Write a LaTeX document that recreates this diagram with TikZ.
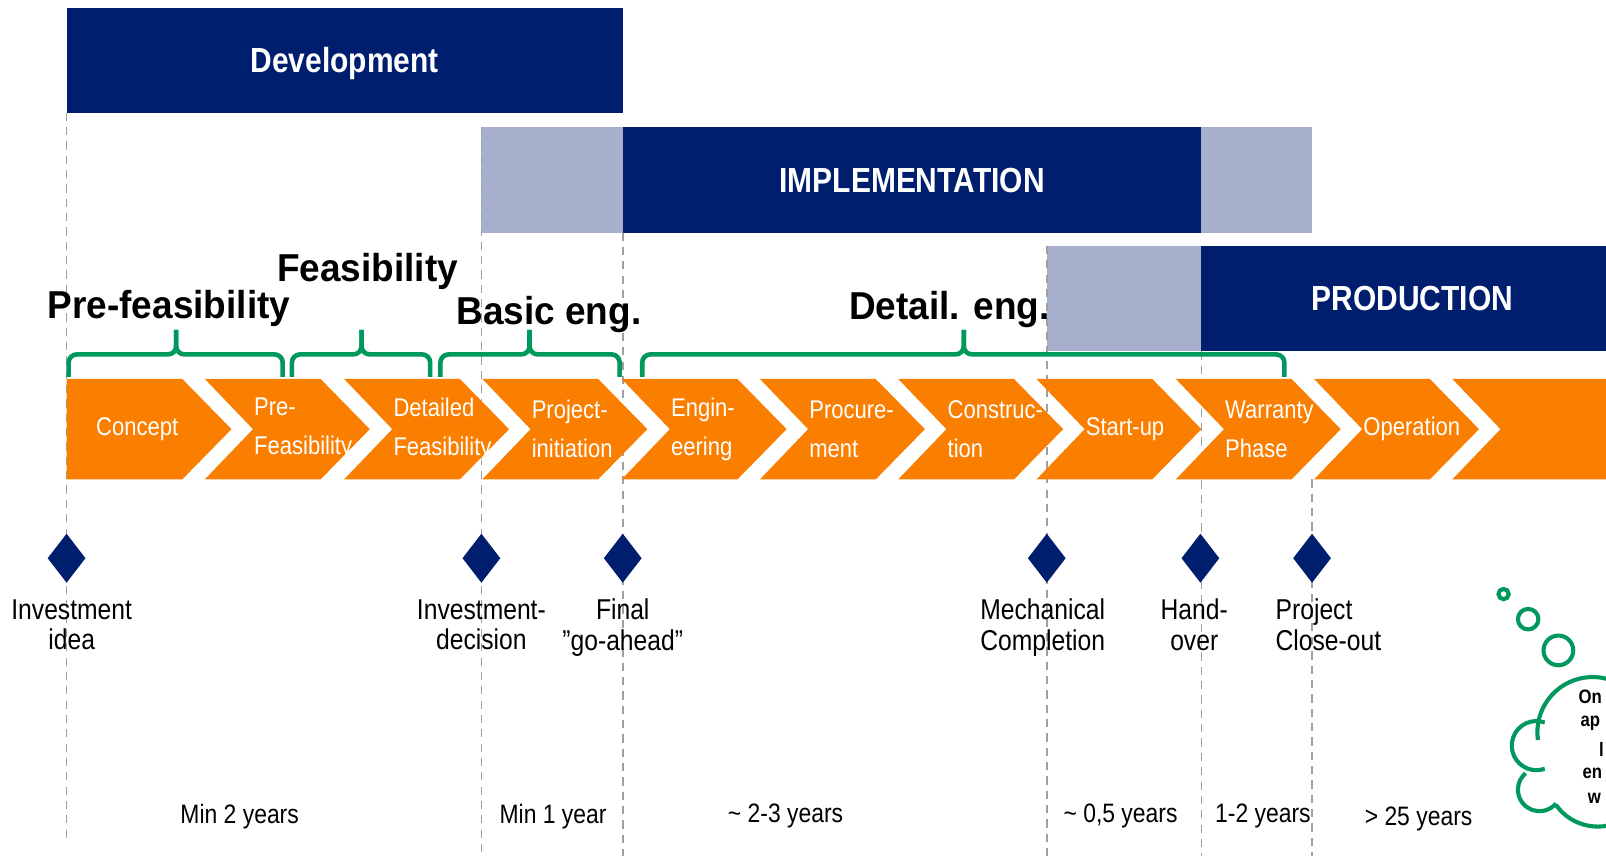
\documentclass[tikz,border=0pt]{standalone}
\usepackage{fontspec}
\setmainfont{Liberation Sans}[FakeStretch=0.86]
\newfontfamily\headfont{Liberation Sans}[FakeStretch=0.95]
\usetikzlibrary{positioning, shapes.geometric}

\definecolor{navy}{RGB}{0,30,110}
\definecolor{lightnavy}{RGB}{166,176,204}
\definecolor{phaseorange}{RGB}{250,126,0}
\definecolor{bracegreen}{RGB}{0,152,92}
\definecolor{guidegray}{RGB}{160,160,160}

\begin{document}
\begin{tikzpicture}[x=1pt, y=-1pt, on grid,
    banner/.style={fill=navy, text=white, font=\fontsize{34}{40}\selectfont\bfseries,
                   text height=24pt, text depth=0pt,
                   minimum height=103pt, inner sep=0, outer sep=0},
    tail/.style={fill=lightnavy, minimum height=103pt, inner sep=0, outer sep=0},
    chevron/.style={fill=phaseorange},
    steptext/.style={text=white, align=left, inner sep=0, anchor=west,
                     font=\fontsize{25}{38}\selectfont},
    milestone/.style={diamond, fill=navy, minimum width=37pt, minimum height=48pt, inner sep=0},
    mlabel/.style={align=center, font=\fontsize{28}{30}\selectfont},
    period/.style={font=\fontsize{26}{30}\selectfont},
    stage/.style={font=\headfont\fontsize{38}{44}\selectfont\bfseries},
    note/.style={font=\fontsize{19}{22}\selectfont\bfseries, inner sep=0, anchor=west},
    guide/.style={draw=guidegray, dash pattern=on 8pt off 6pt, line width=1.5pt},
    bracket/.style={draw=bracegreen, line width=4.5pt, rounded corners=8pt},
    bubble/.style={draw=bracegreen, line width=4pt}]

    \clip (0,0) rectangle (1568,836);
    \fill[white] (0,0) rectangle (1568,836);

    % phase banners
    \node[banner, minimum width=543pt, minimum height=102pt] (dev) at (336.5,59) {Development};
    \node[tail, minimum width=138pt] (impl_a) at (539,175.5) {};
    \node[banner, minimum width=565pt] (impl) at (890.5,175.5) {IMPLEMENTATION};
    \node[tail, minimum width=108pt] (impl_b) at (1227,175.5) {};
    \node[tail, minimum width=151pt] (prod_a) at (1097.5,291.5) {};
    \node[banner, minimum width=412pt] (prod) at (1379,291.5) {PRODUCTION};

    % guide lines
    \draw[guide] (dev.south west) -- ++(0,710);
    \draw[guide] (impl_a.north west) -- ++(0,712);
    \draw[guide] (impl_a.south east) -- ++(0,609);
    \draw[guide] (prod_a.north west) -- ++(0,596);
    \draw[guide] (prod.south west) -- ++(0,493);
    \draw[guide] (1281,468) -- ++(0,368);

    % project stages
    \fill[chevron] (65,370) -- (178,370) -- (226,419) -- (178,468) -- (65,468) -- cycle;
    \node[steptext, anchor=center] (p_0) at (134,419) {Concept};
    \foreach \x/\n/\txt in {200/1/{Pre-\\Feasibility}, 336/2/{Detailed\\Feasibility},
                            471/3/{Project-\\initiation}, 607/4/{Engin-\\eering},
                            742/5/{Procure-\\ment}, 877/6/{Construc-\\tion},
                            1012/7/{Start-up}, 1148/8/{Warranty\\Phase}, 1283/9/{Operation}} {
        \fill[chevron] (\x,370) -- ++(113,0) -- ++(48,49) -- ++(-48,49) -- ++(-113,0)
            -- ++(47,-49) -- cycle;
        \node[steptext] (p_\n) at (\x+48,419) {\txt};
    }
    \fill[chevron] (1418,370) -- (1600,370) -- (1600,468) -- (1418,468) -- (1465,419) -- cycle;

    % braces over the stages
    \foreach \xa/\xb/\xc in {67/172/276, 285/353/420, 430/517/605, 627/941/1254} {
        \draw[bracket] (\xa,368) -- (\xa,346) -- (\xb,346) -- (\xb,322);
        \draw[bracket] (\xc,368) -- (\xc,346) -- (\xb,346) -- (\xb,322);
    }
    \node[stage] (h_1) at (165,301) {Pre-feasibility};
    \node[stage] (h_2) at (359,265) {Feasibility};
    \node[stage] (h_3) at (536,307) {Basic eng.};
    \node[stage] (h_4) at (927,302) {Detail. eng.};

    % milestones
    \foreach \x/\n in {65/1, 470/2, 608/3, 1022/4, 1172/5, 1281/6}
        \node[milestone] (m_\n) at (\x,545) {};
    \node[mlabel, below=65pt of m_1, xshift=5pt] (l_1) {Investment\\idea};
    \node[mlabel, below=65pt of m_2] (l_2) {Investment-\\decision};
    \node[mlabel, below=68pt of m_3] (l_3) {Final\\”go-ahead”};
    \node[mlabel, below=68pt of m_4, xshift=-4pt] (l_4) {Mechanical\\Completion};
    \node[mlabel, below=65pt of m_5, xshift=-6pt] (l_5) {Hand-\\over};
    \node[mlabel, align=left, below=65pt of m_6, xshift=16pt] (l_6) {Project\\Close-out};

    % durations
    \foreach \x/\y/\n/\txt in {234/797/1/{Min 2 years}, 540/797/2/{Min 1 year},
                               767/797/3/{\textasciitilde{} 2-3 years},
                               1094/797/4/{\textasciitilde{} 0,5 years},
                               1233/797/5/{1-2 years}, 1385/800/6/{> 25 years}}
        \node[period] (d_\n) at (\x,\y) {\txt};

    % thought cloud
    \draw[bubble] (1468,580) circle[radius=5pt];
    \draw[bubble] (1492,604.5) circle[radius=10pt];
    \draw[bubble] (1521.5,635) circle[radius=14.5pt];
    \draw[bubble] (1501.5,722.5) arc[start angle=188, end angle=20, radius=54pt];
    \draw[bubble] (1508.2,705.4) arc[start angle=70, end angle=290, radius=24pt];
    \draw[bubble] (1489.5,754.9) arc[start angle=130, end angle=320, radius=21pt];
    \draw[bubble] (1519,785.7) arc[start angle=215, end angle=340, radius=50pt];
    \foreach \x/\y/\n/\txt in {1541/680/1/On, 1543/706/2/ap, 1561/732/3/l,
                               1545/755/4/en, 1550/779/5/w}
        \node[note] (t_\n) at (\x,\y) {\txt};
\end{tikzpicture}
\end{document}
